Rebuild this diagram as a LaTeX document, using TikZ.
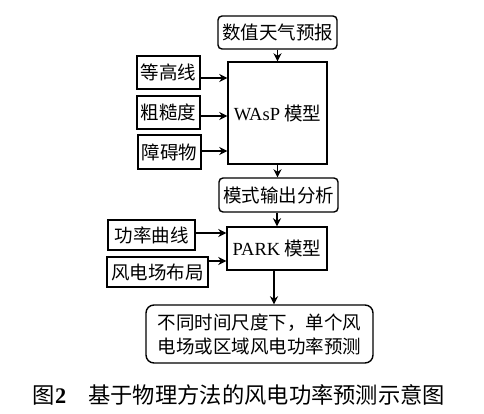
\documentclass[tikz,border=0pt]{standalone}
\usepackage{fontspec}
\setmainfont{Liberation Serif}
\newfontfamily\cjk{Noto Sans CJK SC}
\usetikzlibrary{arrows.meta}
\begin{document}
\begin{tikzpicture}[x=1pt,y=-1pt,
  box/.style={draw,line width=1.4pt,inner sep=0pt,align=center,font=\fontsize{18.5}{22}\selectfont\cjk},
  rbox/.style={box,rounded corners=4pt},
  arr/.style={line width=1.4pt,-{Stealth[length=8pt,width=8pt,inset=2.5pt]}}]
\useasboundingbox (0,0) rectangle (484,414);
\node[rbox,minimum width=119pt,minimum height=33pt] (top) at (277.5,32.5) {数值天气预报};
\node[box,minimum width=99pt,minimum height=102pt] (wasp) at (277.5,113) {{\rmfamily WAsP} 模型};
\node[box,minimum width=63pt,minimum height=33pt] (a1) at (168.5,72.5) {等高线};
\node[box,minimum width=63pt,minimum height=33pt] (a2) at (168.5,112.5) {粗糙度};
\node[box,minimum width=63pt,minimum height=34pt] (a3) at (169.5,152) {障碍物};
\node[rbox,minimum width=119pt,minimum height=34pt] (mid) at (278.5,195) {模式输出分析};
\node[box,minimum width=100pt,minimum height=43pt] (park) at (277,248.5) {{\rmfamily PARK} 模型};
\node[box,minimum width=87pt,minimum height=30pt] (b1) at (151.5,235) {功率曲线};
\node[box,minimum width=101pt,minimum height=30pt] (b2) at (157.5,272) {风电场布局};
\node[box,rounded corners=8pt,minimum width=227pt,minimum height=58pt,
  font=\fontsize{18.5}{24}\selectfont\cjk] (final) at (259.5,334)
  {不同时间尺度下，单个风\\电场或区域风电功率预测};
\node[font=\fontsize{22.3}{26}\selectfont\cjk] (cap) at (239,395) {图{\rmfamily\bfseries 2}\hspace{22pt}基于物理方法的风电功率预测示意图};
\draw[arr] (top.south -| wasp.north) -- (wasp.north);
\draw[arr] ([yshift=-5.5pt]a1.east) -- ([yshift=-5.5pt]a1.east -| wasp.west);
\draw[arr] ([yshift=-3.5pt]a2.east) -- ([yshift=-3.5pt]a2.east -| wasp.west);
\draw[arr] ([yshift=1pt]a3.east) -- ([yshift=1pt]a3.east -| wasp.west);
\draw[arr] (wasp.south) -- (wasp.south |- mid.north);
\draw[arr] (mid.south -| park.north) -- (park.north);
\draw[arr] ([yshift=2pt]b1.east) -- ([yshift=2pt]b1.east -| park.west);
\draw[arr] ([yshift=11pt]b2.east) -- ([yshift=11pt]b2.east -| park.west);
\draw[arr] ([xshift=-3pt]park.south) -- ([xshift=-3pt]park.south |- final.north);
\end{tikzpicture}
\end{document}
